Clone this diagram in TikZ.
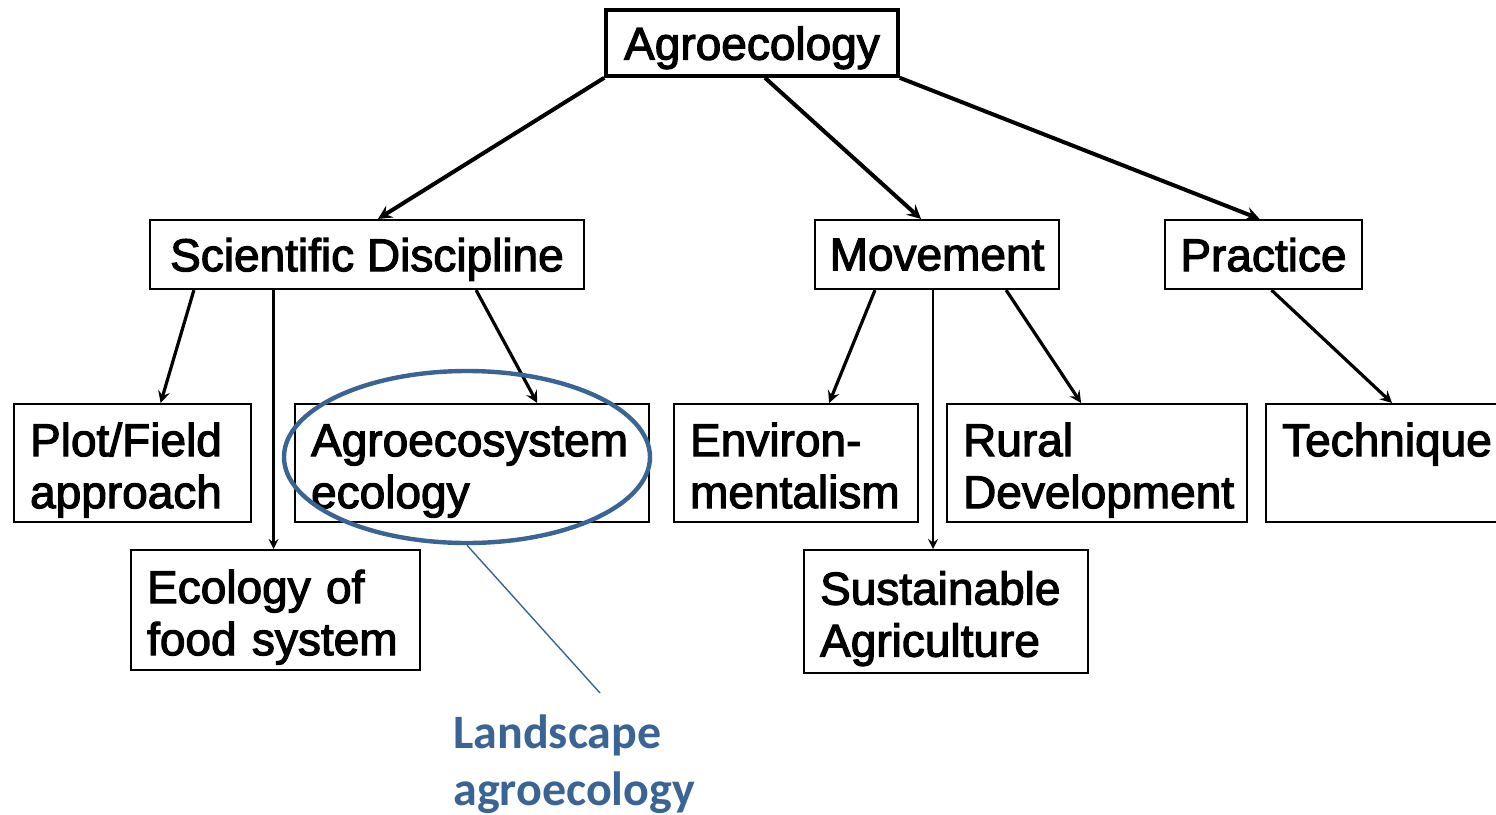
\documentclass[tikz,border=0pt]{standalone}
\usepackage{fontspec}
\usetikzlibrary{shapes.geometric}
\newfontfamily\boxfont{Liberation Sans}[BoldFont=Liberation Sans, BoldFeatures={FakeBold=2.5}]
\newfontfamily\notefont{Carlito}
\definecolor{noteblue}{HTML}{3A6494}
\tikzset{%
  link/.style = {-stealth, line width=1.6pt},
  b/.style = {rectangle, draw, line width=1.1pt, inner sep=0pt,
        font=\boxfont\bfseries\fontsize{23}{26}\selectfont},
  t/.style = {b, minimum height=34.5pt, text depth=0pt},
  l/.style = {b, anchor=north west, align=left, inner xsep=8pt,
        inner ysep=2pt, text height=24pt, text depth=31pt, minimum height=59pt}
}

\begin{document}
\begin{tikzpicture}[x=0.5pt, y=-0.5pt]
\useasboundingbox (0,0) rectangle (1496,815);
% top row
\node[t, line width=1.8pt, minimum width=146pt, minimum height=33pt] (agro) at (752,43) {Agroecology};
\node[t, minimum width=217pt] (sci) at (367,254.5) {Scientific Discipline};
\node[t, minimum width=122pt] (move) at (937,254.5) {Movement};
\node[t, minimum width=98.5pt] (prac) at (1263.5,254.5) {Practice};
% lower rows
\node[l, text width=102.5pt] (plot) at (13,403) {Plot/Field\\approach};
\node[l, text width=161pt] (agroeco) at (294,403) {Agroecosystem\\ecology};
\node[l, text width=106pt] (env) at (673,403) {Environ-\\mentalism};
\node[l, text width=134pt] (rural) at (946,403) {Rural\\Development};
\node[l, text width=109pt] (tech) at (1265,403) {Technique};
\node[l, text width=128.5pt, minimum height=60pt] (eco) at (130,549) {Ecology of\\food system};
\node[l, text width=126pt, minimum height=61.5pt] (sust) at (803,549) {Sustainable\\Agriculture};
% arrows
\draw[link, line width=2pt] (agro.south west) -- ([xshift=5.5pt]sci.north);
\draw[link, line width=2pt] ([xshift=6.5pt]agro.south) -- ([xshift=-8pt]move.north);
\draw[link, line width=2pt] (agro.south east) -- ([xshift=-2pt]prac.north);
\draw[link] ([xshift=22.5pt]sci.south west) -- ([xshift=14pt]plot.north);
\draw[link, line width=1.2pt] ([xshift=-1pt]eco.north |- sci.south) -- ([xshift=-1pt]eco.north);
\draw[link] ([xshift=-54.5pt]sci.south east) -- ([xshift=-56.5pt]agroeco.north east);
\draw[link] ([xshift=-31pt]move.south) -- ([xshift=16.5pt]env.north);
\draw[link, line width=1.2pt] ([xshift=-6.5pt]sust.north |- move.south) -- ([xshift=-6.5pt]sust.north);
\draw[link] ([xshift=-27pt]move.south east) -- ([xshift=-8pt]rural.north);
\draw[link] ([xshift=4pt]prac.south) -- ([xshift=63.5pt]tech.north west);
% landscape callout
\node[ellipse, draw=noteblue, line width=2.2pt, minimum width=183pt, minimum height=86pt, inner sep=0pt] (ring) at (467,457) {};
\coordinate (tip) at (600,693);
\draw[noteblue, line width=0.7pt] (ring.south) -- (tip);
\node[anchor=north west, inner sep=0pt, align=left, text=noteblue,
  font=\notefont\bfseries\fontsize{24}{28.5}\selectfont] (land) at (453,714) {Landscape\\agroecology};
\end{tikzpicture}
\end{document}
